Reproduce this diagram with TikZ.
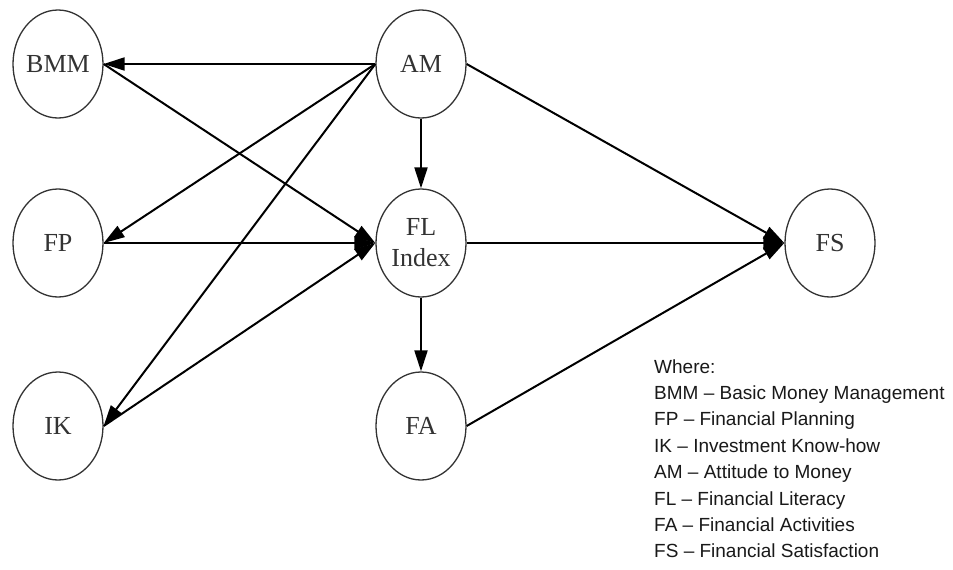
\documentclass[tikz,border=0pt]{standalone}
\usepackage{fontspec}
\setmainfont{Liberation Serif}
\newfontfamily\legendfont[Ligatures=TeX]{Liberation Sans}
\usetikzlibrary{arrows.meta,shapes.geometric}
\begin{document}
\begin{tikzpicture}[x=1pt,y=-1pt,
  var/.style={draw=black!80, line width=1.3pt, ellipse, minimum width=90pt,
    minimum height=108pt, inner sep=0pt, text=black!80,
    font=\fontsize{26}{31}\selectfont, align=center},
  link/.style={line width=2pt, -{Triangle[length=21pt,width=13pt]}},
  legend/.style={anchor=base west, inner sep=0pt, text=black!90,
    font=\legendfont\fontsize{19}{22}\selectfont}]
\useasboundingbox[fill=white] (0,0) rectangle (953,570);

% construct nodes
\node[var] (bmm) at (58,64)  {BMM};
\node[var] (fp)  at (58,243) {FP};
\node[var] (ik)  at (58,426) {IK};
\node[var] (am)  at (421,64) {AM};
\node[var] (fl)  at (421,243) {FL\\Index};
\node[var] (fa)  at (421,426) {FA};
\node[var] (fs)  at (830,243) {FS};

% paths
\draw[link] (am.west) -- (bmm.east);
\draw[link] (am.west) -- (fp.east);
\draw[link] (am.west) -- (ik.east);
\draw[link] (am.south) -- (fl.north);
\draw[link] (am.east) -- (fs.west);
\draw[link] (bmm.east) -- (fl.west);
\draw[link] (fp.east) -- (fl.west);
\draw[link] (ik.east) -- (fl.west);
\draw[link] (fl.east) -- (fs.west);
\draw[link] (fl.south) -- (fa.north);
\draw[link] (fa.east) -- (fs.west);

% abbreviations
\node[legend] (l0) at (654,373.0) {Where:};
\node[legend] (l1) at (654,399.4) {BMM -- Basic Money Management};
\node[legend] (l2) at (654,425.8) {FP -- Financial Planning};
\node[legend] (l3) at (654,452.2) {IK -- Investment Know-how};
\node[legend] (l4) at (654,478.6) {AM -- Attitude to Money};
\node[legend] (l5) at (654,505.0) {FL -- Financial Literacy};
\node[legend] (l6) at (654,531.4) {FA -- Financial Activities};
\node[legend] (l7) at (654,557.8) {FS -- Financial Satisfaction};
\end{tikzpicture}
\end{document}
